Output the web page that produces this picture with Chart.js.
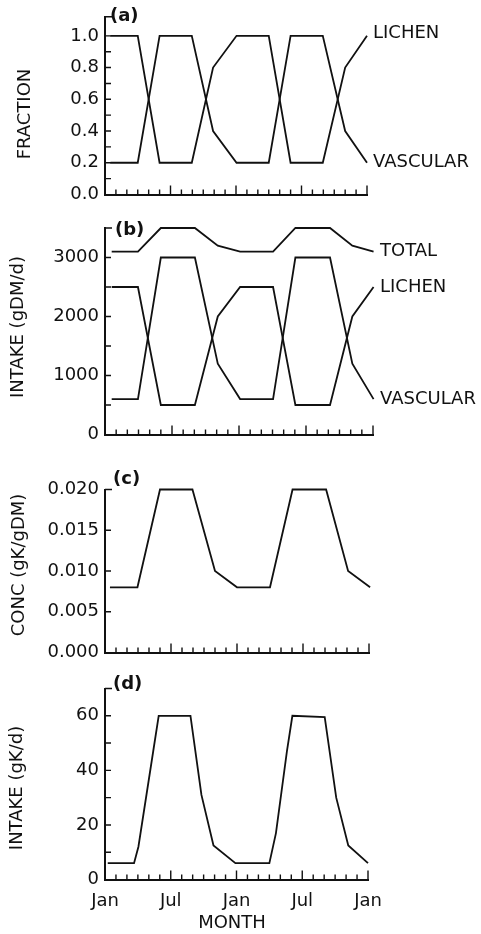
<!DOCTYPE html>
<html><head><meta charset="utf-8">
<script src="https://cdn.jsdelivr.net/npm/chart.js@4.4.1/dist/chart.umd.min.js"></script>
<style>
html,body{margin:0;padding:0;background:#fff;}
#wrap{position:relative;width:481px;height:934px;overflow:hidden;background:#fff;}
canvas{position:absolute;left:0;top:0;}
</style></head><body>
<div id="wrap">
<canvas id="ca" width="481" height="934"></canvas>
<canvas id="cb" width="481" height="934"></canvas>
<canvas id="cc" width="481" height="934"></canvas>
<canvas id="cd" width="481" height="934"></canvas>
</div>
<script>
// ---- data (months from January of year 1) ----
const monthsA = [0.5, 3.0, 5.0, 7.95, 9.9, 12.05, 15.0, 17.0, 19.95, 22.0, 24.0];
const fractionLichen   = [1.0, 1.0, 0.2, 0.2, 0.8, 1.0, 1.0, 0.2, 0.2, 0.8, 1.0];
const fractionVascular = [0.2, 0.2, 1.0, 1.0, 0.4, 0.2, 0.2, 1.0, 1.0, 0.4, 0.2];

const monthsB = [0.6, 2.95, 5.0, 8.05, 10.1, 12.1, 15.05, 17.05, 20.15, 22.15, 24.05];
const intakeTotal    = [3100, 3100, 3500, 3500, 3200, 3100, 3100, 3500, 3500, 3200, 3100];
const intakeLichen   = [2500, 2500, 500, 500, 2000, 2500, 2500, 500, 500, 2000, 2500];
const intakeVascular = [600, 600, 3000, 3000, 1200, 600, 600, 3000, 3000, 1200, 600];

const monthsC = [0.45, 2.95, 5.0, 7.95, 10.0, 12.0, 15.0, 17.05, 20.1, 22.1, 24.1];
const concK   = [0.008, 0.008, 0.020, 0.020, 0.010, 0.008, 0.008, 0.020, 0.020, 0.010, 0.008];

const monthsD = [0.25, 2.65, 3.05, 4.4, 4.9, 7.8, 8.8, 9.9, 11.9, 15.0, 15.6, 16.6, 17.1, 20.05, 21.1, 22.2, 24.0];
const intakeK = [6, 6, 12, 47, 60, 60, 31, 12.5, 6, 6, 17, 47, 60, 59.5, 30, 12.5, 6];

// ---- tick labels ----
const monthTickValues = [0, 6, 12, 18, 24];
const monthTickLabels = ['Jan', 'Jul', 'Jan', 'Jul', 'Jan'];
const yTicksA = [0, 0.2, 0.4, 0.6, 0.8, 1.0];
const yTicksB = [0, 1000, 2000, 3000];
const yTicksC = [0, 0.005, 0.010, 0.015, 0.020];
const yTicksD = [0, 20, 40, 60];

// ---- drawing helpers ----
const FF = "'DejaVu Sans', sans-serif";
const INK = '#111';

function panel(id, cfg) {
  const ticksPlugin = {
    id: 'inTicks' + id,
    afterDraw(chart) {
      const {ctx, scales: {x, y}} = chart;
      ctx.save();
      ctx.strokeStyle = INK; ctx.lineWidth = 1.4;
      ctx.beginPath();
      const bot = y.getPixelForValue(0);
      for (let m = 0; m <= 24; m++) {
        const px = x.getPixelForValue(m);
        const len = (m % 6 === 0) ? 9 : 5;
        ctx.moveTo(px, bot); ctx.lineTo(px, bot - len);
      }
      const left = x.getPixelForValue(0);
      const st = cfg.yMinor;
      for (let k = 1; k * st <= cfg.ymax - st * 0.5; k++) {
        const py = y.getPixelForValue(k * st);
        ctx.moveTo(left, py); ctx.lineTo(left + 6, py);
      }
      const pt = y.getPixelForValue(cfg.ymax);
      ctx.moveTo(left, pt); ctx.lineTo(left + 7, pt);
      ctx.stroke();
      ctx.restore();
    }
  };
  const textPlugin = {
    id: 'texts' + id,
    afterDraw(chart) {
      const ctx = chart.ctx;
      for (const t of cfg.texts) {
        ctx.save();
        ctx.font = t.font || ('18px ' + FF);
        ctx.fillStyle = INK;
        ctx.textAlign = t.align || 'left';
        ctx.textBaseline = 'middle';
        ctx.translate(t.x, t.y);
        if (t.rot) ctx.rotate(t.rot);
        ctx.fillText(t.text, 0, 0);
        ctx.restore();
      }
    }
  };
  return new Chart(document.getElementById(id), {
    type: 'line',
    data: {
      datasets: cfg.series.map(s => ({
        data: s.x.map((m, i) => ({x: m, y: s.y[i]})),
        borderColor: INK, borderWidth: 1.8, pointRadius: 0,
        tension: 0, fill: false, clip: false
      }))
    },
    options: {
      responsive: false, animation: false, events: [],
      layout: {autoPadding: false,
        padding: {left: 0, top: cfg.top, right: 481 - cfg.right, bottom: 934 - cfg.bottom - cfg.xh}},
      plugins: {legend: {display: false}, tooltip: {enabled: false}},
      scales: {
        x: {
          type: 'linear', min: 0, max: 24,
          afterFit: s => { s.height = cfg.xh; },
          afterBuildTicks: s => { s.ticks = monthTickValues.map(v => ({value: v})); },
          grid: {display: false, drawTicks: false},
          border: {display: true, color: INK, width: 2},
          ticks: {display: !!cfg.xlabels, autoSkip: false, maxRotation: 0,
            callback: (v, i) => monthTickLabels[i],
            padding: 11, color: INK, font: {family: FF, size: 18}}
        },
        y: {
          type: 'linear', min: 0, max: cfg.ymax,
          afterFit: s => { s.width = cfg.left; },
          afterBuildTicks: s => { s.ticks = cfg.yTicks.map(v => ({value: v})); },
          grid: {display: false, drawTicks: false},
          border: {display: true, color: INK, width: 2},
          ticks: {autoSkip: false, callback: cfg.fmt, padding: 6, color: INK, font: {family: FF, size: 18}}
        }
      }
    },
    plugins: [ticksPlugin, textPlugin]
  });
}

const BOLD = 'bold 18px ' + FF;
const ROT = -Math.PI / 2;

panel('ca', {
  left: 105, right: 367, top: 13, bottom: 194.5, xh: 2, ymax: 1.12, yMinor: 0.1, yTicks: yTicksA,
  fmt: v => v.toFixed(1),
  series: [{x: monthsA, y: fractionLichen}, {x: monthsA, y: fractionVascular}],
  texts: [
    {text: '(a)', x: 110, y: 16, font: BOLD},
    {text: 'LICHEN', x: 373, y: 33},
    {text: 'VASCULAR', x: 373, y: 162},
    {text: 'FRACTION', x: 25, y: 114, rot: ROT, align: 'center'}
  ]
});

panel('cb', {
  left: 105, right: 373, top: 228, bottom: 434.5, xh: 2, ymax: 3500, yMinor: 500, yTicks: yTicksB,
  fmt: v => String(Math.round(v)),
  series: [{x: monthsB, y: intakeTotal}, {x: monthsB, y: intakeLichen}, {x: monthsB, y: intakeVascular}],
  texts: [
    {text: '(b)', x: 115, y: 230, font: BOLD},
    {text: 'TOTAL', x: 380, y: 251},
    {text: 'LICHEN', x: 380, y: 287},
    {text: 'VASCULAR', x: 380, y: 399},
    {text: 'INTAKE (gDM/d)', x: 18, y: 327, rot: ROT, align: 'center'}
  ]
});

panel('cc', {
  left: 105, right: 369, top: 489.5, bottom: 652.5, xh: 2, ymax: 0.020, yMinor: 0.005, yTicks: yTicksC,
  fmt: v => v.toFixed(3),
  series: [{x: monthsC, y: concK}],
  texts: [
    {text: '(c)', x: 113, y: 479, font: BOLD},
    {text: 'CONC (gK/gDM)', x: 19, y: 565, rot: ROT, align: 'center'}
  ]
});

panel('cd', {
  left: 105, right: 368, top: 688.5, bottom: 879.5, xh: 34, ymax: 70, yMinor: 10, yTicks: yTicksD, xlabels: true,
  fmt: v => String(Math.round(v)),
  series: [{x: monthsD, y: intakeK}],
  texts: [
    {text: '(d)', x: 113, y: 684, font: BOLD},
    {text: 'INTAKE (gK/d)', x: 17, y: 788, rot: ROT, align: 'center'},
    {text: 'MONTH', x: 232, y: 923, align: 'center'}
  ]
});
</script>
</body></html>
